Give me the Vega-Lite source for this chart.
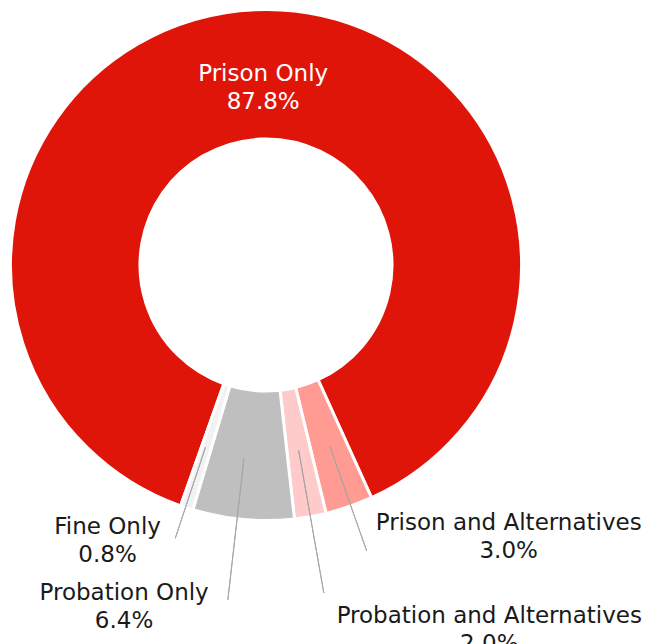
{
  "$schema": "https://vega.github.io/schema/vega-lite/v6.json",
  "width": 532,
  "height": 530,
  "padding": 0,
  "autosize": {"type": "pad"},
  "background": "white",
  "config": {"view": {"stroke": null}},
  "data": {
    "values": [
      {"idx": 1, "category": "Prison Only", "share": 0.878},
      {"idx": 2, "category": "Prison and Alternatives", "share": 0.030},
      {"idx": 3, "category": "Probation and Alternatives", "share": 0.020},
      {"idx": 4, "category": "Probation Only", "share": 0.064},
      {"idx": 5, "category": "Fine Only", "share": 0.008}
    ]
  },
  "transform": [
    {"stack": "share", "groupby": [], "sort": [{"field": "idx", "order": "ascending"}], "as": ["s0", "s1"]},
    {"calculate": "(datum.s0 + datum.s1) / 2", "as": "mid"},
    {"calculate": "datum.category + '\\n' + format(datum.share, '.1%')", "as": "label"}
  ],
  "layer": [
    {
      "mark": {"type": "arc", "innerRadius": 126, "outerRadius": 255.5, "stroke": "white", "strokeWidth": 3},
      "encoding": {
        "theta": {"field": "s0", "type": "quantitative", "scale": {"domain": [0, 1], "range": [3.4823, 9.7655]}},
        "theta2": {"field": "s1"},
        "color": {
          "field": "category",
          "type": "nominal",
          "legend": null,
          "scale": {
            "domain": ["Prison Only", "Prison and Alternatives", "Probation and Alternatives", "Probation Only", "Fine Only"],
            "range": ["#e01509", "#ff9b93", "#ffcaca", "#bfbfbf", "#f2f2f2"]
          }
        }
      }
    },
    {
      "transform": [{"filter": "datum.category === 'Fine Only'"}],
      "mark": {"type": "arc", "innerRadius": 192, "outerRadius": 288, "stroke": "#a6a6a6", "strokeWidth": 1, "fillOpacity": 0, "thetaOffset": 0.005, "theta2Offset": 0.005},
      "encoding": {
        "theta": {"field": "mid", "type": "quantitative", "scale": {"domain": [0, 1], "range": [3.4823, 9.7655]}},
        "theta2": {"field": "mid"}
      }
    },
    {
      "transform": [{"filter": "datum.category === 'Probation Only'"}],
      "mark": {"type": "arc", "innerRadius": 195, "outerRadius": 337, "stroke": "#a6a6a6", "strokeWidth": 1, "fillOpacity": 0, "thetaOffset": 0.024, "theta2Offset": 0.024},
      "encoding": {
        "theta": {"field": "mid", "type": "quantitative", "scale": {"domain": [0, 1], "range": [3.4823, 9.7655]}},
        "theta2": {"field": "mid"}
      }
    },
    {
      "transform": [{"filter": "datum.category === 'Probation and Alternatives'"}],
      "mark": {"type": "arc", "innerRadius": 188, "outerRadius": 333, "stroke": "#a6a6a6", "strokeWidth": 1, "fillOpacity": 0},
      "encoding": {
        "theta": {"field": "mid", "type": "quantitative", "scale": {"domain": [0, 1], "range": [3.4823, 9.7655]}},
        "theta2": {"field": "mid"}
      }
    },
    {
      "transform": [{"filter": "datum.category === 'Prison and Alternatives'"}],
      "mark": {"type": "arc", "innerRadius": 192, "outerRadius": 303, "stroke": "#a6a6a6", "strokeWidth": 1, "fillOpacity": 0, "thetaOffset": -0.007, "theta2Offset": -0.007},
      "encoding": {
        "theta": {"field": "mid", "type": "quantitative", "scale": {"domain": [0, 1], "range": [3.4823, 9.7655]}},
        "theta2": {"field": "mid"}
      }
    },
    {
      "transform": [{"filter": "datum.category === 'Prison Only'"}],
      "mark": {"type": "text", "radius": 184, "dx": 5, "dy": 0, "align": "center", "baseline": "alphabetic", "lineBreak": "\n", "lineHeight": 28, "font": "DejaVu Sans", "fontSize": 23, "color": "white"},
      "encoding": {
        "theta": {"field": "mid", "type": "quantitative", "scale": {"domain": [0, 1], "range": [3.4823, 9.7655]}},
        "text": {"field": "label"}
      }
    },
    {
      "transform": [{"filter": "datum.category === 'Prison and Alternatives'"}],
      "mark": {"type": "text", "radius": 300, "dx": 145, "dy": -19, "align": "center", "baseline": "alphabetic", "lineBreak": "\n", "lineHeight": 28, "font": "DejaVu Sans", "fontSize": 23, "color": "#1a1a1a"},
      "encoding": {
        "theta": {"field": "mid", "type": "quantitative", "scale": {"domain": [0, 1], "range": [3.4823, 9.7655]}},
        "text": {"field": "label"}
      }
    },
    {
      "transform": [{"filter": "datum.category === 'Probation and Alternatives'"}],
      "mark": {"type": "text", "radius": 330, "dx": 166, "dy": 33, "align": "center", "baseline": "alphabetic", "lineBreak": "\n", "lineHeight": 28, "font": "DejaVu Sans", "fontSize": 23, "color": "#1a1a1a"},
      "encoding": {
        "theta": {"field": "mid", "type": "quantitative", "scale": {"domain": [0, 1], "range": [3.4823, 9.7655]}},
        "text": {"field": "label"}
      }
    },
    {
      "transform": [{"filter": "datum.category === 'Probation Only'"}],
      "mark": {"type": "text", "radius": 335, "dx": -112, "dy": 1, "align": "center", "baseline": "alphabetic", "lineBreak": "\n", "lineHeight": 28, "font": "DejaVu Sans", "fontSize": 23, "color": "#1a1a1a"},
      "encoding": {
        "theta": {"field": "mid", "type": "quantitative", "scale": {"domain": [0, 1], "range": [3.4823, 9.7655]}},
        "text": {"field": "label"}
      }
    },
    {
      "transform": [{"filter": "datum.category === 'Fine Only'"}],
      "mark": {"type": "text", "radius": 285, "dx": -70, "dy": -2, "align": "center", "baseline": "alphabetic", "lineBreak": "\n", "lineHeight": 28, "font": "DejaVu Sans", "fontSize": 23, "color": "#1a1a1a"},
      "encoding": {
        "theta": {"field": "mid", "type": "quantitative", "scale": {"domain": [0, 1], "range": [3.4823, 9.7655]}},
        "text": {"field": "label"}
      }
    }
  ]
}
